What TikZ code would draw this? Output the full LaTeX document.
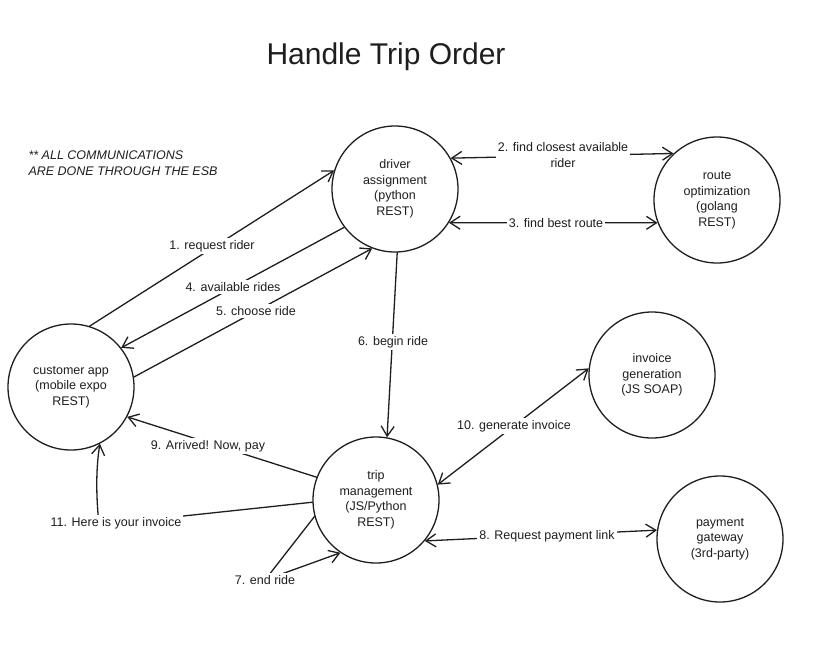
\documentclass[tikz,border=0pt]{standalone}
\usepackage{fontspec}
\setmainfont{Liberation Sans}
\usetikzlibrary{arrows.meta}
\pgfdeclarelayer{bg}
\pgfdeclarelayer{paper}
\pgfsetlayers{paper,bg,main}
\definecolor{ink}{HTML}{1E1E1E}
\begin{document}
\begin{tikzpicture}[x=1pt,y=-1pt,
  svc/.style={circle,draw=ink,line width=1.3pt,minimum size=126pt,inner sep=0pt,align=center,text=ink,font=\fontsize{12.5}{15.5}\selectfont},
  lbl/.style={fill=white,inner sep=2pt,align=center,text=ink,font=\fontsize{12.5}{15.5}\selectfont},
  conn/.style={draw=ink,line width=1.3pt,line cap=round,line join=round,>={Straight Barb[length=10pt,width=13pt]}}
]
\begin{pgfonlayer}{paper}
\fill[white] (0,0) rectangle (835,662);
\end{pgfonlayer}
\useasboundingbox (0,0) rectangle (835,662);

% title and note
\node[text=ink,font=\fontsize{30}{34}\selectfont] (title) at (386,57) {Handle Trip Order};
\node[anchor=west,align=left,text=ink,font=\fontsize{12.5}{16}\selectfont\itshape] (note) at (25,163)
  {** ALL COMMUNICATIONS\\ARE DONE THROUGH THE ESB};

% services
\node[svc] (drv)  at (395,189) {driver\\assignment\\(python\\REST)};
\node[svc] (route) at (717,200) {route\\optimization\\(golang\\REST)};
\node[svc] (cust) at (71,387) {customer app\\(mobile expo\\REST)};
\node[svc] (trip) at (376,500) {trip\\management\\(JS/Python\\REST)};
\node[svc] (inv)  at (652,375) {invoice\\generation\\(JS SOAP)};
\node[svc] (pay)  at (720,539) {payment\\gateway\\(3rd-party)};

% labels
\node[lbl] (l1)  at (212,246) {1. request rider};
\node[lbl] (l4)  at (233,287) {4. available rides};
\node[lbl] (l5)  at (256,311) {5. choose ride};
\node[lbl] (l6)  at (393,342) {6. begin ride};
\node[lbl] (l2)  at (563,155) {2. find closest available\\rider};
\node[lbl] (l3)  at (556,223) {3. find best route};
\node[lbl] (l10) at (514,426) {10. generate invoice};
\node[lbl] (l8)  at (547,536) {8. Request payment link};
\node[lbl] (l9)  at (208,446) {9. Arrived! Now, pay};
\node[lbl] (l11) at (116,523) {11. Here is your invoice};
\node[lbl] (l7)  at (265,580) {7. end ride};
\coordinate (c11) at (99,525);

\begin{pgfonlayer}{bg}
\draw[conn,->] (cust.73) -- (drv.163);
\draw[conn,->] (drv.217) -- (cust.38);
\draw[conn,->] (cust.9) -- (drv.249);
\draw[conn,->] (drv.272) -- (trip.80);
\draw[conn,<->] (drv.29) -- (route.133);
\draw[conn,<->] (drv.-32) -- (route.201);
\draw[conn,<->] (trip.14) -- (inv.174);
\draw[conn,<->] (trip.-40) -- (pay.172);
\draw[conn,->] (trip.159) -- (cust.-28);
\draw[conn,->] (trip.182) -- (c11) .. controls +(-3,-30) and +(-4,25) .. (cust.-63);
\draw[conn,->] (trip.195) -- (l7.center) -- (trip.236);
\end{pgfonlayer}
\end{tikzpicture}
\end{document}
